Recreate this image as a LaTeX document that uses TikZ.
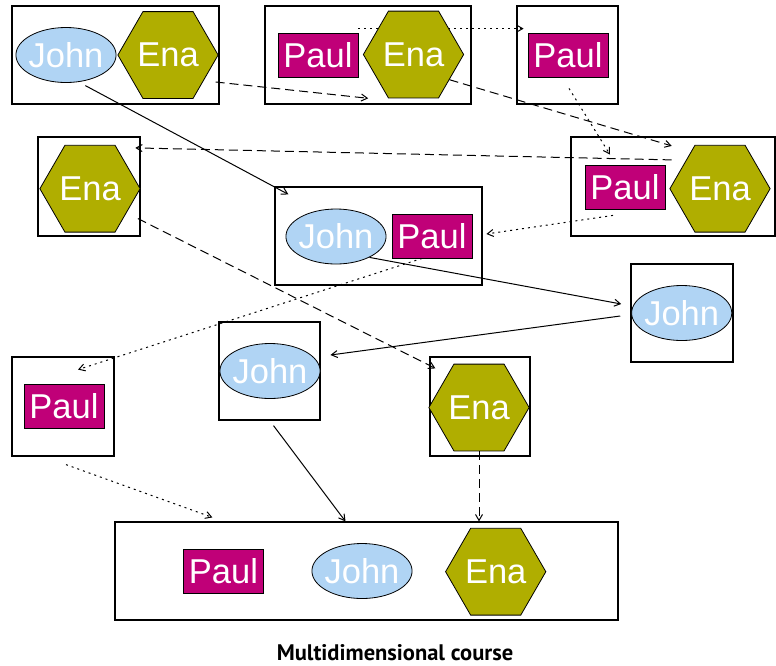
\documentclass[tikz,border=0pt]{standalone}
\usepackage{fontspec}
\setmainfont{Liberation Sans}
\newfontfamily\titlefont{PT Sans}
\usetikzlibrary{shapes.geometric,arrows.meta,backgrounds}
\definecolor{johnblue}{RGB}{176,212,244}
\definecolor{paulred}{RGB}{192,0,120}
\definecolor{enaolive}{RGB}{176,174,0}

\begin{document}
\begin{tikzpicture}[x=1pt,y=-1pt,
		>={Straight Barb[length=6pt,width=7pt]},
		every node/.style={font=\fontsize{34.5}{40}\selectfont,text=white},
		frame/.style={draw,line width=1.2pt,minimum width=#1,minimum height=98pt,inner sep=0pt},
		frame/.default=102pt,
		john/.style={ellipse,draw,line width=0.8pt,fill=johnblue,minimum width=100pt,minimum height=55pt,inner xsep=-2pt,inner ysep=0pt},
		paul/.style={rectangle,draw,line width=0.8pt,fill=paulred,minimum width=80pt,minimum height=44pt,inner sep=0pt},
		ena/.style={regular polygon,regular polygon sides=6,draw,line width=0.8pt,fill=enaolive,minimum size=96pt,inner sep=0pt},
		enaline/.style={line width=1pt,dash pattern=on 9pt off 5pt},
		paulline/.style={line width=1pt,dash pattern=on 2pt off 4pt},
		johnline/.style={line width=1pt}]
				\useasboundingbox (0,0) rectangle (776,665);
				\node[frame=207pt] (b1) at (115.5,55) {};
				\node[frame=206pt] (b2) at (368,55) {};
				\node[frame=101pt] (b3) at (567.5,55) {};
				\node[frame=204pt,minimum height=99pt] (b4) at (673,186.5) {};
				\node[frame,minimum height=99pt] (b5) at (89,186.5) {};
				\node[frame=207pt] (b6) at (378.5,236) {};
				\node[frame] (b7) at (682,313) {};
				\node[frame,minimum height=99pt] (b8) at (63,406.5) {};
				\node[frame=101pt] (b9) at (269.5,371) {};
				\node[frame=100pt,minimum height=99pt] (b10) at (480,406.5) {};
				\node[frame=503pt] (b11) at (366.5,571) {};
				\node[john] (j1) at (66,55) {John};
				\node[ena] (e1) at (168,55) {Ena};
				\node[paul] (p2) at (318,55) {Paul};
				\node[ena] (e2) at (413.5,54.5) {Ena};
				\node[paul] (p3) at (568,55) {Paul};
				\node[paul] (p4) at (625,187) {Paul};
				\node[ena] (e4) at (720,188.7) {Ena};
				\node[ena] (e5) at (90,188.7) {Ena};
				\node[john] (j6) at (336,236.5) {John};
				\node[paul] (p6) at (432,236) {Paul};
				\node[john] (j7) at (681.7,313) {John};
				\node[paul] (p8) at (64,406) {Paul};
				\node[john] (j9) at (270,371) {John};
				\node[ena] (e10) at (479,407.5) {Ena};
				\node[paul] (p11) at (223.5,571.5) {Paul};
				\node[john] (j11) at (362,571) {John};
				\node[ena] (e11) at (495.7,571.7) {Ena};
				\node[font=\titlefont\fontsize{22.5}{27}\selectfont\bfseries,text=black,anchor=base] (title) at (395,660) {Multidimensional course};
				\begin{scope}[on background layer]
				\draw[enaline,->] ([shift={(-3,27)}]e1.east) -- ([shift={(-20,0)}]e2.240);
				\draw[enaline,->] (e2.-35) -- ([shift={(-23,1)}]e4.120);
				\draw[enaline,->] ([shift={(-23,15)}]e4.120) -- ([shift={(20,3)}]e5.60);
				\draw[enaline,->] ([shift={(10,8)}]e5.-30) -- ([shift={(6,12)}]b10.north west);
				\draw[enaline,->] (e10.south) -- (e10.south |- b11.north);
				\draw[paulline,->] ([shift={(0,-4)}]p2.north east) -- ([shift={(-4,-4)}]p3.north west);
				\draw[paulline,->] ([shift={(1,11)}]p3.south) -- ([shift={(-15,-10)}]p4.north);
				\draw[paulline,->] ([shift={(-12,6)}]p4.south) -- ([shift={(14,-2)}]p6.east);
				\draw[paulline,->] ([shift={(-10,0)}]p6.south) -- ([shift={(14,-14)}]p8.north);
				\draw[paulline,->] ([shift={(3,8)}]b8.south) -- ([shift={(98,-4)}]b11.north west);
				\draw[johnline,->] ([shift={(4,4)}]j1.-60) -- ([shift={(14,8)}]b6.north west);
				\draw[johnline,->] (j6.-32) -- ([shift={(-10,-9)}]j7.west);
				\draw[johnline,->] ([shift={(-11,3)}]j7.west) -- ([shift={(10,-16)}]j9.east);
				\draw[johnline,->] ([shift={(4,5)}]b9.south) -- ([shift={(-21,0)}]b11.north);
				\end{scope}
			\end{tikzpicture}
\end{document}
